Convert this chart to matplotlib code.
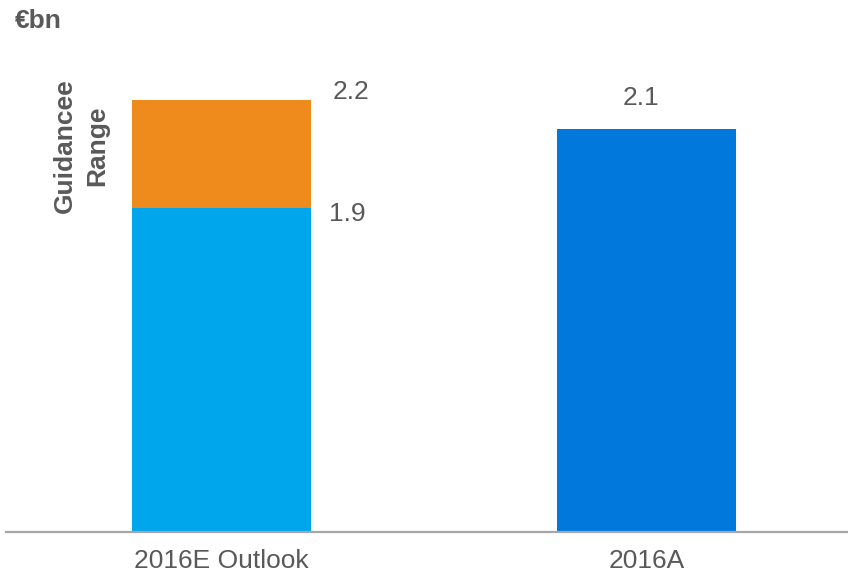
import matplotlib
matplotlib.use("Agg")
import matplotlib.pyplot as plt

plt.rcParams['font.family'] = ['Liberation Sans', 'DejaVu Sans']

categories = ["2016E Outlook", "2016A"]
low_values = [1.9, 2.12]          # lower stacked segment / single bar
range_values = [0.3, 0.0]         # guidance range segment on top
value_labels_low = ["1.9", "2.1"]
value_label_top = "2.2"
unit_label = "€bn"
range_label = "Guidancee\nRange"

c_light = "#00A6EC"
c_dark = "#0078DC"
c_orange = "#EF8B1D"
c_text = "#595959"

fig = plt.figure(figsize=(8.48, 5.76), dpi=100)
ax = fig.add_axes([6/848, 44/576, 842/848, 492/576])

base = 1.0
x = list(range(len(categories)))
w = 0.421
bars_low = ax.bar(x, [v - base for v in low_values], bottom=base, width=w,
                  color=[c_light, c_dark], zorder=2)
bars_top = ax.bar([x[0]], [range_values[0]], bottom=low_values[0], width=w,
                  color=c_orange, zorder=2)

ax.set_xlim(-0.507, 1.474)
ax.set_ylim(base, base + 492/360)

for s in ["top", "right", "left"]:
    ax.spines[s].set_visible(False)
ax.spines["bottom"].set_color("#A6A6A6")
ax.spines["bottom"].set_linewidth(1.6)
ax.set_yticks([])
ax.set_xticks(x)
ax.set_xticklabels(categories, fontsize=19, color=c_text)
ax.tick_params(axis='x', length=0, pad=12)

fs = 19
# labels for first bar (to the right)
right_edge = x[0] + w/2
ax.annotate(value_label_top, (right_edge, low_values[0] + range_values[0]),
            xytext=(40, 8), textcoords='offset pixels', ha='center', va='center',
            fontsize=fs, color=c_text)
ax.annotate(value_labels_low[0], (right_edge, low_values[0]),
            xytext=(36, -6), textcoords='offset pixels', ha='center', va='center',
            fontsize=fs, color=c_text)
# label for second bar (above)
ax.annotate(value_labels_low[1], (x[1], low_values[1]),
            xytext=(-6, 31), textcoords='offset pixels', ha='center', va='center',
            fontsize=fs, color=c_text)

fig.text(15/848, 1 - 28/576, unit_label, fontsize=19, fontweight='bold',
         color=c_text, ha='left', va='baseline')
fig.text(81/848, 1 - 146/576, range_label, fontsize=19, fontweight='bold',
         color=c_text, ha='center', va='center', rotation=90,
         multialignment='center', linespacing=1.45)

fig.savefig("out.png", dpi=100)
